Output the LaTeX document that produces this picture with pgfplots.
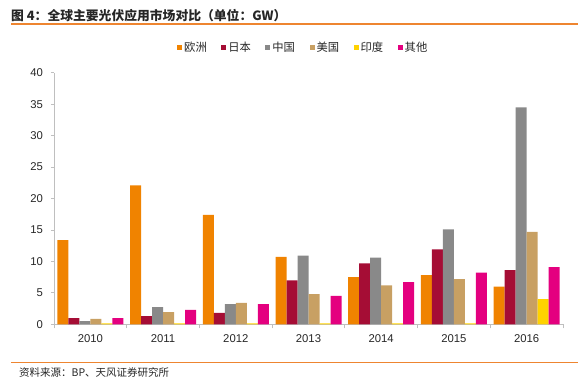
\documentclass[border=0pt]{standalone}
\usepackage{fontspec}
\setmainfont{Liberation Sans}
\newfontfamily\cjk{Noto Sans CJK SC}
\usepackage{pgfplots}
\pgfplotsset{compat=1.18}
\definecolor{cEU}{HTML}{F08300}
\definecolor{cJP}{HTML}{A50D35}
\definecolor{cCN}{HTML}{898989}
\definecolor{cUS}{HTML}{C8A063}
\definecolor{cIN}{HTML}{FFD200}
\definecolor{cOT}{HTML}{E4007F}
\definecolor{rulec}{HTML}{EE8530}
\definecolor{axisgray}{HTML}{BFBFBF}
\definecolor{txt}{HTML}{262626}
\pgfplotsset{sq/.style={legend image code/.code={\fill[##1] (0pt,-2.5pt) rectangle (5pt,2.5pt);}}}
\begin{document}
\begin{tikzpicture}
\path[use as bounding box] (0pt,0pt) rectangle (586pt,383pt);
\node[anchor=west, inner sep=0pt, text=txt, font=\cjk\bfseries\fontsize{12.8}{14}\selectfont] at (11pt,367.7pt) {图 4：全球主要光伏应用市场对比（单位：GW）};
\draw[rulec, line width=2pt] (11pt,358.7pt) -- (578pt,358.7pt);
\draw[rulec, line width=1pt] (11pt,20.2pt) -- (578pt,20.2pt);
\node[anchor=west, inner sep=0pt, text=txt, font=\cjk\fontsize{10.5}{12}\selectfont] at (19pt,11pt) {资料来源：BP、天风证券研究所};
\begin{axis}[
  at={(54pt,58.7pt)}, anchor=south west, scale only axis,
  width=509pt, height=251.6pt,
  xmin=-0.5, xmax=6.5, ymin=0, ymax=40,
  ybar=0pt, bar width=11pt,
  axis x line*=bottom, axis y line*=left,
  axis line style={axisgray, line width=0.8pt},
  tick align=outside,
  xtick={0,1,2,3,4,5,6},
  xticklabels={2010,2011,2012,2013,2014,2015,2016},
  major x tick style={draw=none},
  minor xtick={-0.5,0.5,1.5,2.5,3.5,4.5,5.5,6.5},
  minor tick length=4pt, major tick length=3pt,
  every tick/.style={axisgray, line width=0.8pt},
  ytick={0,5,...,40},
  /pgf/number format/assume math mode=true,
  ticklabel style={font=\fontsize{11.3}{13}\selectfont, text=txt},
  yticklabel style={xshift=-4.5pt},
  xticklabel style={yshift=-4pt},
  legend style={at={(0.2417,1.101)}, anchor=west, draw=none, fill=none,
    legend columns=6, inner sep=0pt, text=txt,
    font=\cjk\fontsize{11.3}{13}\selectfont,
    /tikz/every even column/.append style={column sep=12.5pt}},
]
\addplot[sq, fill=cEU, draw=none] coordinates {(0,13.4) (1,22.1) (2,17.4) (3,10.7) (4,7.5) (5,7.8) (6,6.0)};
\addplot[sq, fill=cJP, draw=none] coordinates {(0,1.0) (1,1.3) (2,1.8) (3,7.0) (4,9.7) (5,11.9) (6,8.6)};
\addplot[sq, fill=cCN, draw=none] coordinates {(0,0.5) (1,2.75) (2,3.2) (3,10.9) (4,10.6) (5,15.1) (6,34.5)};
\addplot[sq, fill=cUS, draw=none] coordinates {(0,0.85) (1,1.95) (2,3.4) (3,4.8) (4,6.2) (5,7.2) (6,14.7)};
\addplot[sq, fill=cIN, draw=none] coordinates {(0,0.15) (1,0.15) (2,0.15) (3,0.15) (4,0.15) (5,0.15) (6,4.0)};
\addplot[sq, fill=cOT, draw=none] coordinates {(0,1.0) (1,2.3) (2,3.2) (3,4.5) (4,6.7) (5,8.2) (6,9.1)};
\legend{欧洲,日本,中国,美国,印度,其他}
\end{axis}
\end{tikzpicture}
\end{document}
